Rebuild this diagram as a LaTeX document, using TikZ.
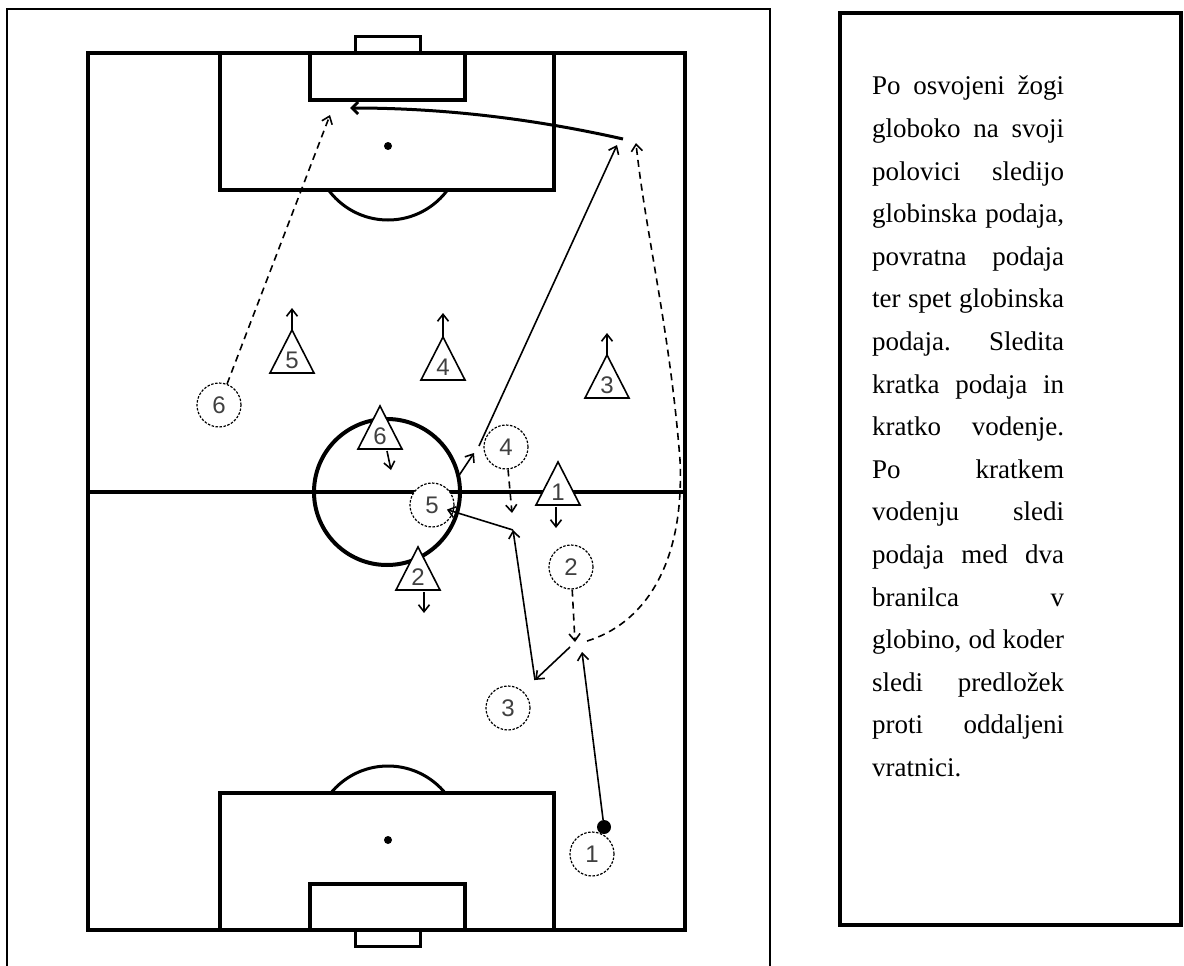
\documentclass[tikz,border=0pt]{standalone}
\usepackage{fontspec}
\setmainfont{Liberation Serif}
\newfontfamily\stevfont{Liberation Sans}
\usetikzlibrary{arrows.meta}

\begin{document}
\begin{tikzpicture}[x=1pt,y=-1pt,
  >={Straight Barb[length=7pt,width=11pt]},
  crta/.style={line width=4pt},
  podaja/.style={line width=1.6pt,->},
  tek/.style={line width=1.6pt,->,dash pattern=on 7pt off 5pt},
  napad/.style={circle,draw,fill=white,line width=1.2pt,dash pattern=on 2.5pt off 1.5pt,
    minimum size=44pt,inner sep=0pt,text=black!75,font=\stevfont\fontsize{24}{24}\selectfont},
  stev/.style={inner sep=0pt,text=black!75,font=\stevfont\fontsize{24}{24}\selectfont},
  obramba/.style={line width=1.6pt,fill=white}]
  \useasboundingbox (0,0) rectangle (1184,966);
  % okvirja
  \draw[line width=2pt] (7,990) |- (770,9) -- (770,990);
  \draw[line width=4pt] (840,13) rectangle (1181,925);
  % igrisce
  \draw[crta] (88,53) rectangle (685,930);
  \draw[crta] (88,492) -- (685,492);
  \draw[crta] (387,492) circle(73);
  \draw[crta] (220,53) rectangle (554,190); \draw[crta] (310,53) rectangle (465,100);
  \draw[line width=3pt] (355,53) rectangle (420,37);
  \draw[crta] (220,930) rectangle (554,793); \draw[crta] (310,930) rectangle (465,884);
  \draw[line width=3pt] (355,930) rectangle (420,946);
  \fill (388,146) circle(4); \fill (388,840) circle(4);
  \begin{scope}
    \clip (220,192) rectangle (554,300);
    \draw[line width=3pt] (388,146) circle(74);
  \end{scope}
  \begin{scope}
    \clip (220,791) rectangle (554,700);
    \draw[line width=3pt] (388,840) circle(74);
  \end{scope}
  % obrambni igralci
  \foreach \n/\x/\y in {1/558/462,2/418/547,3/607/355,4/443/337,5/292/330,6/380/406}{
    \draw[obramba] (\x,\y) -- ++(-22,43) -- ++(44,0) -- cycle;
    \node[stev] (b\n) at (\x,\y+30) {\n};
  }
  % napadalci
  \node[napad] (a1) at (592,854) {1};
  \node[napad] (a2) at (571,567) {2};
  \node[napad] (a3) at (508,708) {3};
  \node[napad] (a4) at (506,447) {4};
  \node[napad] (a5) at (432,505) {5};
  \node[napad] (a6) at (219,405) {6};
  \node[circle,fill,minimum size=14pt,inner sep=0pt] (zoga) at (604,827) {};
  % tocke
  \coordinate (k1) at (582,652);
  \coordinate (k2) at (575,642);
  \coordinate (q2) at (570,647);
  \coordinate (k3) at (535,680);
  \coordinate (k4) at (513,530);
  \coordinate (k5) at (512,513);
  \coordinate (k6) at (458,477);
  \coordinate (k7) at (474,453);
  \coordinate (k8) at (479,446);
  \coordinate (k9) at (617,145);
  \coordinate (k10) at (587,641);
  \coordinate (k11) at (636,143);
  \coordinate (k12) at (623,139);
  \coordinate (k13) at (350,108);
  \coordinate (k14) at (330,115);
  % premiki obrambe
  \draw[podaja] (292,330) -- (292,308);
  \draw[podaja] (443,337) -- (443,313);
  \draw[podaja] (607,355) -- (607,333);
  \draw[podaja] (387,451) -- (391,470);
  \draw[podaja] (556,507) -- (556,528);
  \draw[podaja] (424,592) -- (424,613);
  % akcija
  \draw[podaja] (zoga) -- (k1);
  \draw[tek] (a2) -- (k2);
  \draw[podaja] (q2) -- (k3);
  \draw[podaja] (k3) -- (k4);
  \draw[podaja,shorten >=-7pt] (k4) -- (a5);
  \draw[tek] (a4) -- (k5);
  \draw[podaja] (k6) -- (k7);
  \draw[podaja] (k8) -- (k9);
  \draw[tek] (k10) .. controls (640,625) and (685,570) .. (680,460)
    .. controls (670,330) and (645,230) .. (k11);
  \draw[line width=3pt,-{Straight Barb[length=6pt,width=12pt]}] (k12) .. controls (530,118) and (440,108) .. (k13);
  \draw[tek] (a6) -- (k14);
  % opis
  \node[anchor=north west,text width=192pt,align=justify,inner sep=0pt,
    font=\fontsize{27}{42.6}\selectfont] (opis) at (872,76)
    {\tolerance=10000\hyphenpenalty=10000
     Po osvojeni žogi\linebreak globoko na svoji\linebreak polovici sledijo\linebreak
     globinska podaja,\linebreak povratna podaja\linebreak ter spet globinska\linebreak
     podaja. Sledita\linebreak kratka podaja in\linebreak kratko vodenje.\linebreak
     Po kratkem\linebreak vodenju sledi\linebreak podaja med dva\linebreak
     branilca v\linebreak globino, od koder\linebreak sledi predložek\linebreak
     proti oddaljeni\linebreak vratnici.};
\end{tikzpicture}
\end{document}
